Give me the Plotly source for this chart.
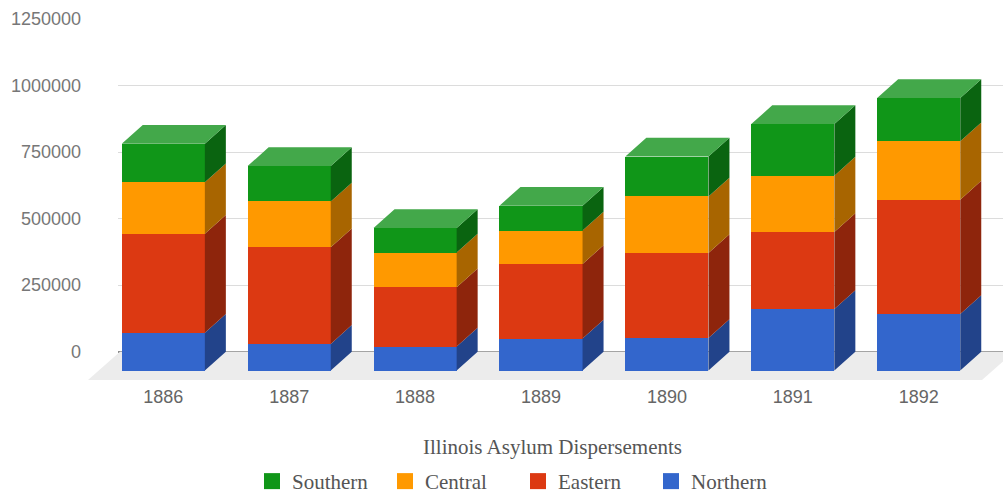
import plotly.graph_objs as go

# values (front faces of the stacked bars)
years = ['1886', '1887', '1888', '1889', '1890', '1891', '1892']
northern = [142000, 100000, 90000, 120000, 122000, 231000, 212000]
eastern = [372000, 363000, 223000, 280000, 319000, 289000, 430000]
central = [193000, 172000, 130000, 126000, 213000, 212000, 219000]
southern = [145000, 133000, 92000, 93000, 150000, 194000, 163000]

y_ticks = [0, 250000, 500000, 750000, 1000000, 1250000]

series = [
    # name, values, front colour, side colour
    ('Northern', northern, '#3366cc', '#22438a'),
    ('Eastern', eastern, '#dc3912', '#8e250c'),
    ('Central', central, '#ff9900', '#a86500'),
    ('Southern', southern, '#109618', '#0a6410'),
]
top_colour = '#43a84a'

# page geometry (pixels)
W, H = 1003, 497
ppu = 332.7 / 1250000          # pixels per value unit
back_zero_px, back_top_px = 351.7, 19.0
back_left_px = 118
front_zero_px = 370.5
floor_front_px = 380
bar0_px, step_px = 163.3, 125.9
bar_w = 0.66
depth_x_px = 21
depth_y_px = back_zero_px - front_zero_px  # negative = upward

# front axis ranges
fx_range = [-bar0_px / step_px, (W - bar0_px) / step_px]
fy_range = [-(floor_front_px - front_zero_px) / ppu, front_zero_px / ppu]
dx = depth_x_px / step_px
dy = -depth_y_px / ppu


def px_to_fx(px):
    return (px - bar0_px) / step_px


fig = go.Figure()

# floor (drawn in subplot 2, under the bars)
floor_x = [px_to_fx(88), px_to_fx(982), px_to_fx(982 + 32), px_to_fx(88 + 32)]
floor_y = [fy_range[0], fy_range[0], dy, dy]
fig.add_trace(go.Scatter(x=floor_x, y=floor_y, fill='toself', mode='lines',
                         line=dict(width=0), fillcolor='#ececec',
                         hoverinfo='skip', showlegend=False,
                         xaxis='x2', yaxis='y2'))

# front faces
for name, vals, col, _ in series:
    fig.add_trace(go.Bar(x=list(range(len(years))), y=vals, name=name,
                         width=bar_w, marker=dict(color=col, line=dict(width=0)),
                         legendgroup=name, showlegend=False,
                         xaxis='x3', yaxis='y3'))

# side faces
base = [0] * len(years)
for name, vals, col, side in series:
    xs, ys = [], []
    for i, v in enumerate(vals):
        xr = i + bar_w / 2
        y0, y1 = base[i], base[i] + v
        xs += [xr, xr + dx, xr + dx, xr, None]
        ys += [y0, y0 + dy, y1 + dy, y1, None]
        base[i] = y1
    fig.add_trace(go.Scatter(x=xs, y=ys, fill='toself', mode='lines',
                             line=dict(width=0), fillcolor=side,
                             legendgroup=name, hoverinfo='skip', showlegend=False,
                             xaxis='x3', yaxis='y3'))

# top faces
xs, ys = [], []
for i, t in enumerate(base):
    xl, xr = i - bar_w / 2, i + bar_w / 2
    xs += [xl, xl + dx, xr + dx, xr, None]
    ys += [t, t + dy, t + dy, t, None]
fig.add_trace(go.Scatter(x=xs, y=ys, fill='toself', mode='lines',
                         line=dict(width=0), fillcolor=top_colour,
                         legendgroup='Southern', hoverinfo='skip', showlegend=False,
                         xaxis='x3', yaxis='y3'))

# legend entries (bigger square swatches than bar icons)
for name, vals, col, _ in series:
    fig.add_trace(go.Scatter(x=[None], y=[None], mode='markers', name=name,
                             legendgroup=name,
                             marker=dict(symbol='square', size=16, color=col),
                             xaxis='x3', yaxis='y3'))

# dummy trace to make the back subplot exist
fig.add_trace(go.Scatter(x=[0], y=[0], mode='markers', marker=dict(opacity=0),
                         hoverinfo='skip', showlegend=False))

fig.update_layout(
    width=W, height=H,
    margin=dict(l=0, r=0, t=0, b=0, autoexpand=False),
    paper_bgcolor='white',
    plot_bgcolor='rgba(0,0,0,0)',
    barmode='stack',
    showlegend=True,
    xaxis=dict(domain=[back_left_px / W, 1], range=[0, 1], visible=False),
    yaxis=dict(domain=[1 - back_zero_px / H, 1 - back_top_px / H],
               range=[0, 1250000], tickvals=y_ticks, tickformat='d',
               showgrid=True, gridcolor='#dcdcdc', gridwidth=1,
               zeroline=True, zerolinecolor='#8c8c8c', zerolinewidth=1.5,
               showline=False, ticks='', ticklabelstandoff=36,
               tickfont=dict(family='Liberation Sans, Arial', size=18, color='#777777')),
    xaxis2=dict(domain=[0, 1], anchor='y2', range=fx_range,
                tickvals=list(range(len(years))), ticktext=years,
                showgrid=False, zeroline=False, showline=False, ticks='',
                ticklabelstandoff=4,
                tickfont=dict(family='Liberation Sans, Arial', size=18, color='#666666')),
    yaxis2=dict(domain=[1 - floor_front_px / H, 1], anchor='x2', range=fy_range,
                visible=False),
    xaxis3=dict(overlaying='x2', range=fx_range, visible=False),
    yaxis3=dict(overlaying='y2', range=fy_range, visible=False),
    legend=dict(orientation='h', x=518 / W, xanchor='center',
                y=-0.01, yanchor='bottom', traceorder='reversed',
                entrywidth=88, borderwidth=0,
                font=dict(family='Liberation Serif, Times New Roman', size=21,
                          color='#555555')),
    annotations=[dict(text='Illinois Asylum Dispersements', xref='paper', yref='paper',
                      x=552 / W, y=1 - 447 / H, xanchor='center', yanchor='middle',
                      showarrow=False,
                      font=dict(family='Liberation Serif, Times New Roman', size=21,
                                color='#555555'))],
)

# the page is photographed edge to edge, so drop the default body margin
fig.write_html("out.html", config={'displayModeBar': False},
               post_script="document.body.style.margin='0px';")
